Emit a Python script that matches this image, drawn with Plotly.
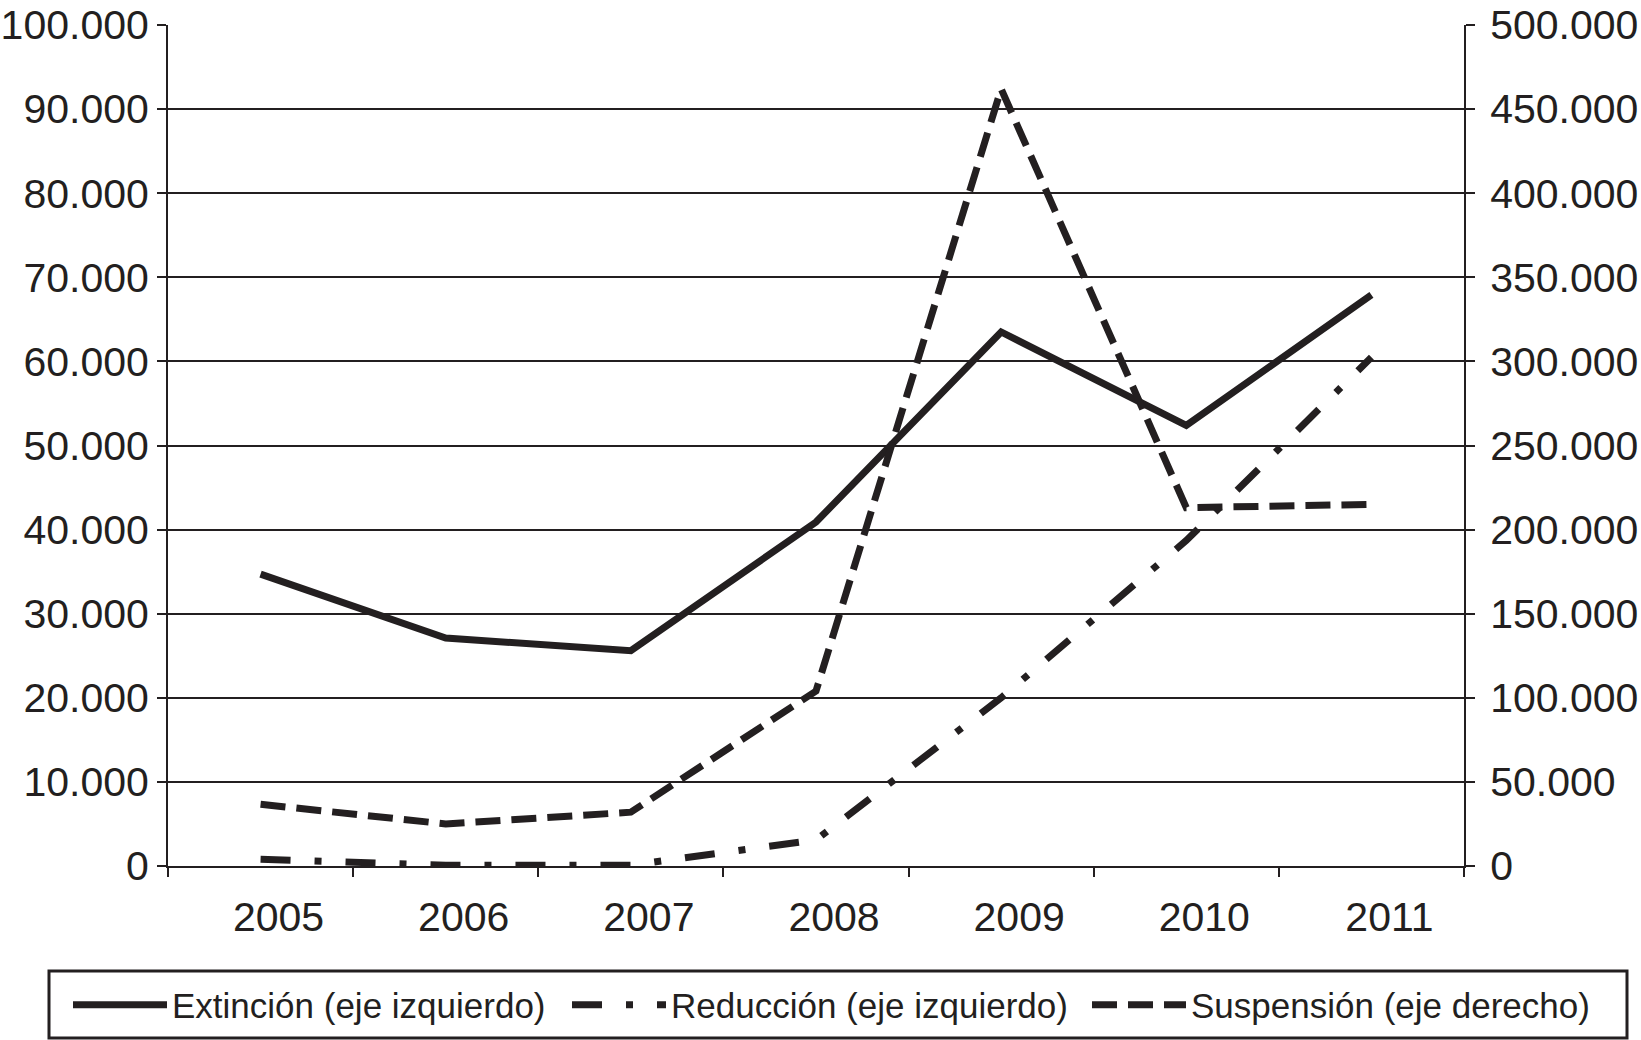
import plotly.graph_objects as go

years = ["2005", "2006", "2007", "2008", "2009", "2010", "2011"]
extincion = [34700, 27100, 25600, 40900, 63500, 52400, 67900]
reduccion = [800, 100, 100, 3100, 20000, 38700, 60500]
suspension = [36700, 25000, 32000, 104000, 462000, 213000, 215000]

INK = "#231f20"
FONT = "Liberation Sans, Arial, sans-serif"
W, H = 1641, 1040
L, R, T, B = 168, 177, 25, 174

fig = go.Figure()
fig.add_trace(go.Scatter(x=years, y=extincion, mode="lines", name="Extinción (eje izquierdo)",
                         legend="legend", line=dict(color=INK, width=7)))
fig.add_trace(go.Scatter(x=years, y=reduccion, mode="lines", name="Reducción (eje izquierdo)",
                         legend="legend2",
                         line=dict(color=INK, width=7, dash="30px,24px,7px,24px")))
fig.add_trace(go.Scatter(x=years, y=suspension, mode="lines", name="Suspensión (eje derecho)",
                         legend="legend3", yaxis="y2",
                         line=dict(color=INK, width=7, dash="25px,11px")))

def leg(xpix):
    return dict(orientation="h", xref="container", yref="container",
                x=xpix / W, y=1 - 1005 / H, xanchor="left", yanchor="middle",
                borderwidth=0, bgcolor="rgba(0,0,0,0)",
                font=dict(size=35, family=FONT, color=INK), itemwidth=94)

pw = W - L - R
ph = H - T - B
fig.add_shape(type="rect", xref="paper", yref="paper",
              x0=(49 - L) / pw, x1=(1627 - L) / pw,
              y0=(H - B - 1038) / ph, y1=(H - B - 971) / ph,
              line=dict(color=INK, width=3), fillcolor="rgba(0,0,0,0)", layer="above")

fig.update_layout(
    width=W, height=H,
    margin=dict(l=L, r=R, t=T, b=B, autoexpand=False),
    paper_bgcolor="white", plot_bgcolor="white",
    separators=",.",
    font=dict(family=FONT, color=INK, size=41),
    showlegend=True,
    legend=leg(68), legend2=leg(567), legend3=leg(1087),
    xaxis=dict(type="category", range=[-0.5, 6.5], tickson="boundaries",
               ticks="outside", ticklen=9, tickwidth=2, tickcolor=INK,
               showline=True, linecolor=INK, linewidth=2, showgrid=False,
               ticklabelshift=18, ticklabelstandoff=14, automargin=False,
               tickfont=dict(size=41)),
    yaxis=dict(range=[0, 100000], dtick=10000, tickformat=",d",
               showgrid=True, gridcolor=INK, gridwidth=2, zeroline=False,
               ticks="outside", ticklen=9, tickwidth=2, tickcolor=INK,
               showline=True, linecolor=INK, linewidth=2, automargin=False,
               ticklabelstandoff=0, tickfont=dict(size=41)),
    yaxis2=dict(range=[0, 500000], dtick=50000, tickformat=",d",
                overlaying="y", side="right", showgrid=False, zeroline=False,
                ticks="outside", ticklen=9, tickwidth=2, tickcolor=INK,
                showline=True, linecolor=INK, linewidth=2, automargin=False,
                ticklabelstandoff=7, tickfont=dict(size=41)),
)

fig.write_html("out.html", config={"displayModeBar": False},
               post_script="document.body.style.margin='0';document.body.style.overflow='hidden';")
